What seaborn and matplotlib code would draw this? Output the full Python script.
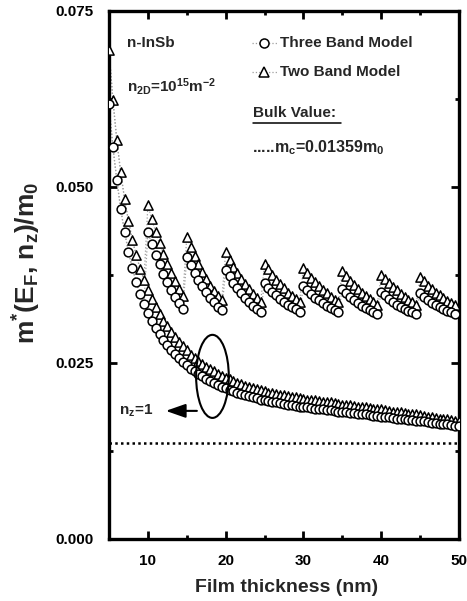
import numpy as np
import pandas as pd
import matplotlib
matplotlib.use("Agg")
import matplotlib.pyplot as plt
import seaborn as sns
from matplotlib.patches import Ellipse, ArrowStyle

# ---------------------------------------------------------------------------
# Effective mass of n-InSb thin films versus film thickness (n_2D = 1e15 m^-2)
# ---------------------------------------------------------------------------
# Ground subband (n_z = 1), sampled every 0.5 nm from 5 nm to 50 nm
film_thickness = np.round(np.arange(5.0, 50.01, 0.5), 1)

two_band_nz1 = [
    0.0695, 0.0624, 0.0567, 0.0521, 0.0483, 0.0452, 0.0425, 0.0403, 0.0384, 0.0368,
    0.0354, 0.0341, 0.0330, 0.0319, 0.0310, 0.0302, 0.0294, 0.0287, 0.0280, 0.0274,
    0.0268, 0.0262, 0.0257, 0.0253, 0.0249, 0.0245, 0.0241, 0.0238, 0.0235, 0.0232,
    0.0229, 0.0227, 0.0224, 0.0222, 0.0220, 0.0218, 0.0216, 0.0214, 0.0213, 0.0211,
    0.0210, 0.0208, 0.0207, 0.0206, 0.0205, 0.0204, 0.0203, 0.0202, 0.0201, 0.0200,
    0.0199, 0.0198, 0.0197, 0.0197, 0.0196, 0.0195, 0.0194, 0.0194, 0.0193, 0.0192,
    0.0191, 0.0191, 0.0190, 0.0189, 0.0188, 0.0188, 0.0187, 0.0186, 0.0185, 0.0185,
    0.0184, 0.0183, 0.0182, 0.0181, 0.0181, 0.0180, 0.0179, 0.0178, 0.0177, 0.0177,
    0.0176, 0.0175, 0.0174, 0.0173, 0.0172, 0.0171, 0.0171, 0.0170, 0.0169, 0.0168,
    0.0167,
]

three_band_nz1 = [
    0.0618, 0.0557, 0.0510, 0.0469, 0.0436, 0.0408, 0.0385, 0.0365, 0.0348, 0.0334,
    0.0321, 0.0310, 0.0300, 0.0291, 0.0283, 0.0276, 0.0269, 0.0263, 0.0257, 0.0252,
    0.0247, 0.0242, 0.0238, 0.0234, 0.0231, 0.0227, 0.0224, 0.0221, 0.0219, 0.0216,
    0.0214, 0.0212, 0.0210, 0.0208, 0.0206, 0.0204, 0.0203, 0.0201, 0.0200, 0.0198,
    0.0197, 0.0196, 0.0195, 0.0194, 0.0193, 0.0192, 0.0191, 0.0190, 0.0189, 0.0188,
    0.0188, 0.0187, 0.0186, 0.0185, 0.0185, 0.0184, 0.0183, 0.0183, 0.0182, 0.0181,
    0.0181, 0.0180, 0.0179, 0.0179, 0.0178, 0.0177, 0.0177, 0.0176, 0.0175, 0.0175,
    0.0174, 0.0173, 0.0173, 0.0172, 0.0171, 0.0171, 0.0170, 0.0169, 0.0169, 0.0168,
    0.0167, 0.0167, 0.0166, 0.0165, 0.0165, 0.0164, 0.0163, 0.0163, 0.0162, 0.0161,
    0.0160,
]

# Higher subbands: each one appears at its onset thickness and is sampled for 4.5 nm
branch_onsets = [10, 15, 20, 25, 30, 35, 40, 45]
branch_offsets = [0.0, 0.5, 1.0, 1.5, 2.0, 2.5, 3.0, 3.5, 4.0, 4.5]

two_band_branches = [
    [0.0474, 0.0454, 0.0436, 0.0420, 0.0405, 0.0391, 0.0378, 0.0366, 0.0355, 0.0345],
    [0.0429, 0.0415, 0.0402, 0.0390, 0.0379, 0.0369, 0.0360, 0.0352, 0.0345, 0.0339],
    [0.0408, 0.0397, 0.0387, 0.0378, 0.0370, 0.0362, 0.0355, 0.0348, 0.0342, 0.0336],
    [0.0391, 0.0383, 0.0375, 0.0368, 0.0362, 0.0356, 0.0350, 0.0345, 0.0341, 0.0337],
    [0.0385, 0.0378, 0.0371, 0.0365, 0.0359, 0.0354, 0.0349, 0.0344, 0.0340, 0.0336],
    [0.0380, 0.0373, 0.0367, 0.0361, 0.0355, 0.0350, 0.0345, 0.0341, 0.0337, 0.0333],
    [0.0375, 0.0369, 0.0363, 0.0358, 0.0353, 0.0348, 0.0344, 0.0340, 0.0336, 0.0333],
    [0.0372, 0.0366, 0.0360, 0.0355, 0.0350, 0.0346, 0.0342, 0.0338, 0.0335, 0.0332],
]

three_band_branches = [
    [0.0436, 0.0419, 0.0404, 0.0390, 0.0377, 0.0365, 0.0354, 0.0344, 0.0335, 0.0327],
    [0.0400, 0.0389, 0.0378, 0.0368, 0.0359, 0.0351, 0.0343, 0.0336, 0.0330, 0.0325],
    [0.0382, 0.0373, 0.0364, 0.0356, 0.0349, 0.0342, 0.0336, 0.0331, 0.0326, 0.0322],
    [0.0364, 0.0357, 0.0351, 0.0346, 0.0341, 0.0337, 0.0333, 0.0329, 0.0326, 0.0323],
    [0.0359, 0.0353, 0.0348, 0.0343, 0.0339, 0.0335, 0.0331, 0.0328, 0.0325, 0.0322],
    [0.0355, 0.0349, 0.0344, 0.0339, 0.0335, 0.0331, 0.0328, 0.0325, 0.0322, 0.0319],
    [0.0351, 0.0346, 0.0341, 0.0337, 0.0333, 0.0330, 0.0327, 0.0324, 0.0322, 0.0320],
    [0.0349, 0.0344, 0.0339, 0.0335, 0.0332, 0.0329, 0.0326, 0.0324, 0.0322, 0.0320],
]

bulk_mass = 0.01359
model_names = ["Three Band Model", "Two Band Model"]
y_ticks = [0.000, 0.025, 0.050, 0.075]
y_tick_labels = ["0.000", "0.025", "0.050", "0.075"]
x_ticks = [10, 20, 30, 40, 50]

# ---------------------------------------------------------------------------
# Long-form tables: markers, plus the dotted guide lines through them
# (one trace follows the ground subband, the other the topmost occupied one)
# ---------------------------------------------------------------------------
point_rows, line_rows = [], []
for model, ground, branches in [
    (model_names[0], three_band_nz1, three_band_branches),
    (model_names[1], two_band_nz1, two_band_branches),
]:
    for x, y in zip(film_thickness, ground):
        point_rows.append((x, y, model, 1))
        line_rows.append((x, y, f"{model}-ground"))
        if x < branch_onsets[0]:
            line_rows.append((x, y, f"{model}-top"))
    for k, (x0, values) in enumerate(zip(branch_onsets, branches), start=2):
        for dx, y in zip(branch_offsets, values):
            point_rows.append((x0 + dx, y, model, k))
            line_rows.append((x0 + dx, y, f"{model}-top"))

points = pd.DataFrame(point_rows, columns=["thickness", "mass", "model", "nz"])
lines = pd.DataFrame(line_rows, columns=["thickness", "mass", "trace"])

# ---------------------------------------------------------------------------
# Style
# ---------------------------------------------------------------------------
sns.set_style("ticks")
plt.rcParams["font.family"] = ["Liberation Sans", "DejaVu Sans"]
plt.rcParams.update({
    "font.weight": "bold",
    "font.size": 11,
    "mathtext.fontset": "custom",
    "mathtext.rm": "Liberation Sans:bold",
    "mathtext.it": "Liberation Sans:bold",
    "mathtext.bf": "Liberation Sans:bold",
    "mathtext.sf": "Liberation Sans:bold",
    "mathtext.default": "rm",
})

W, H = 467, 601
fig = plt.figure(figsize=(W / 100, H / 100), dpi=100)
ax_l, ax_r, ax_t, ax_b = 109, 459, 11, 539
ax = fig.add_axes([ax_l / W, 1 - ax_b / H, (ax_r - ax_l) / W, (ax_b - ax_t) / H])

# dotted guide lines
sns.lineplot(data=lines, x="thickness", y="mass", units="trace", estimator=None,
             sort=False, color="0.62", lw=0.9, linestyle=":", ax=ax, legend=False,
             zorder=1)

tri = points[points["model"] == "Two Band Model"]
circ = points[points["model"] == "Three Band Model"]
sns.scatterplot(data=tri, x="thickness", y="mass", marker="^", s=44, color="white",
                edgecolor="black", linewidth=1.1, ax=ax, legend=False, zorder=3)
sns.scatterplot(data=circ, x="thickness", y="mass", marker="o", s=40, color="white",
                edgecolor="black", linewidth=1.1, ax=ax, legend=False, zorder=4)

# bulk effective mass
ax.axhline(bulk_mass, color="black", lw=1.8, linestyle=(0, (1, 1.3)), zorder=2)

# ellipse + arrow marking the ground subband
ax.add_patch(Ellipse((18.3, 0.0231), 4.2, 0.0118, fill=False, lw=1.5,
                     edgecolor="black", zorder=5))
ax.annotate("", xy=(12.3, 0.0182), xytext=(16.3, 0.0182),
            arrowprops=dict(arrowstyle=ArrowStyle("-|>", head_length=0.8, head_width=0.28),
                            mutation_scale=15, color="black", lw=1.5,
                            shrinkA=0, shrinkB=0), zorder=5)

# axes limits and ticks
ax.set_xlim(5, 50)
ax.set_ylim(0, 0.075)
ax.set_xticks(x_ticks)
ax.set_xticklabels([str(t) for t in x_ticks])
ax.set_xticks([15, 25, 35, 45], minor=True)
ax.set_yticks(y_ticks)
ax.set_yticklabels(y_tick_labels)
ax.set_yticks([0.0125, 0.0375, 0.0625], minor=True)
ax.tick_params(which="both", direction="in", top=True, right=True, width=2.0,
               labelsize=11, pad=11, colors="black")
ax.tick_params(which="major", length=6)
ax.tick_params(which="minor", length=3)
for s in ax.spines.values():
    s.set_linewidth(2.4)
    s.set_color("black")
ax.set_xlabel("")
ax.set_ylabel("")

def fx(px):
    return (px - ax_l) / (ax_r - ax_l)

def fy(py):
    return (ax_b - py) / (ax_b - ax_t)

tA = ax.transAxes
ax.text(fx(127), fy(43), "n-InSb", transform=tA, ha="left", va="center", fontsize=11)
ax.text(fx(127), fy(92), r"n$_{2D}$=10$^{15}$m$^{-2}$", transform=tA, ha="left",
        va="baseline", fontsize=11)

# legend entries
for row_y, mk, label in [(43, "o", model_names[0]), (72, "^", model_names[1])]:
    ax.plot([fx(252), fx(277)], [fy(row_y), fy(row_y)], transform=tA, color="0.62",
            lw=0.9, ls=":", clip_on=False)
    ax.plot([fx(264)], [fy(row_y)], transform=tA, marker=mk, ms=6.5, mfc="white",
            mec="black", mew=1.1, clip_on=False)
    ax.text(fx(280), fy(row_y), label, transform=tA, ha="left", va="center",
            fontsize=11)

ax.text(fx(253), fy(113), "Bulk Value:", transform=tA, ha="left", va="center",
        fontsize=11)
ax.plot([fx(253), fx(341)], [fy(123), fy(123)], transform=tA, color="black",
        lw=1.1, clip_on=False)
ax.text(fx(252), fy(152), r".....m$_c$=0.01359m$_0$", transform=tA, ha="left",
        va="baseline", fontsize=11.5)

ax.text(fx(153), fy(415), r"n$_z$=1", transform=tA, ha="right", va="baseline",
        fontsize=11)

# axis titles
fig.text(287 / W, 1 - 588 / H, "Film thickness (nm)", ha="center", va="center",
         fontsize=14, fontweight="bold")
fig.text(27 / W, 1 - 263 / H, r"m$^{*}$(E$_F$, n$_z$)/m$_0$", ha="center",
         va="center", rotation=90, fontsize=19, fontweight="bold")

fig.savefig("out.png", dpi=100)
